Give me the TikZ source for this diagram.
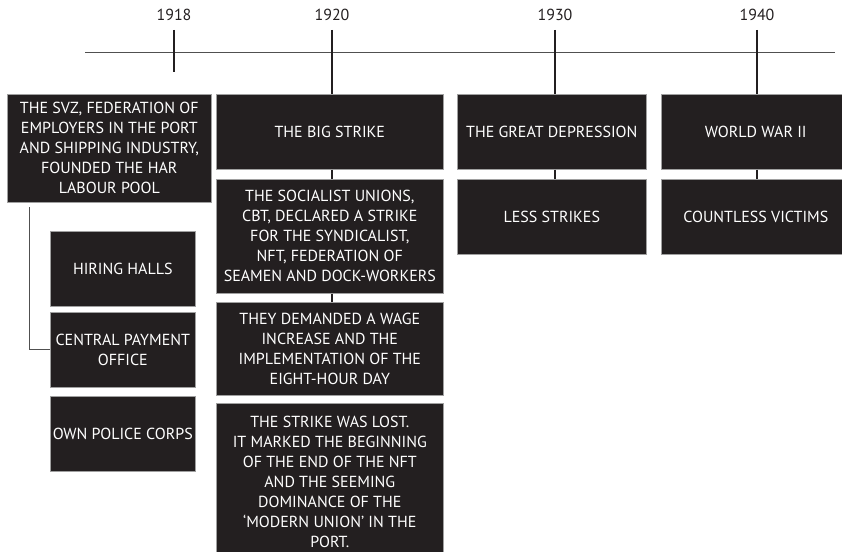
\documentclass[tikz,border=0pt]{standalone}
\usepackage{fontspec}
\setmainfont{PT Sans}
\usepackage{xcolor}
\usepackage{tikz}
\usetikzlibrary{positioning,calc}
\definecolor{boxclr}{RGB}{35,31,32}
\definecolor{rimclr}{RGB}{160,160,160}
\definecolor{axisclr}{RGB}{80,80,80}
\tikzset{
    evt/.style={rectangle,fill=boxclr,draw=rimclr,line width=0.6pt,text=white,align=center,
        inner sep=0pt,anchor=north west,font=\fontsize{16}{20}\selectfont},
    year/.style={font=\fontsize{16}{18}\selectfont,text=boxclr,inner sep=0pt},
    tick/.style={line width=2.2pt,draw=boxclr},
    link/.style={line width=2pt,draw=boxclr},
    axis/.style={line width=1pt,draw=axisclr},
}
\begin{document}
\begin{tikzpicture}[x=1pt,y=-1pt]
\useasboundingbox (0,0) rectangle (842,551);
\clip (0,0) rectangle (842,551);
% years and axis
\node[year] (y1918) at (174,15) {1918};
\node[year] (y1920) at (332,15) {1920};
\node[year] (y1930) at (555,15) {1930};
\node[year] (y1940) at (757,15) {1940};
\coordinate (axL) at (85,52.5);
\coordinate (axR) at (835,52.5);
\draw[axis] (axL) -- (axR);

% 1918
\node[evt,minimum width=204pt,minimum height=108pt] (svz) at (7,94)
  {THE SVZ, FEDERATION OF\\EMPLOYERS IN THE PORT\\AND SHIPPING INDUSTRY,\\FOUNDED THE HAR\\LABOUR POOL};
\node[evt,minimum width=145pt,minimum height=75pt] (halls)  at (50,231) {HIRING HALLS};
\node[evt,minimum width=145pt,minimum height=75pt] (pay)    at (50,312) {CENTRAL PAYMENT\\OFFICE};
\node[evt,minimum width=145pt,minimum height=75pt] (police) at (50,396) {OWN POLICE CORPS};

% 1920
\node[evt,minimum width=227pt,minimum height=75pt]  (strike) at (216,94) {THE BIG STRIKE};
\node[evt,minimum width=227pt,minimum height=114pt] (unions) at (216,179)
  {THE SOCIALIST UNIONS,\\CBT, DECLARED A STRIKE\\FOR THE SYNDICALIST,\\NFT, FEDERATION OF\\SEAMEN AND DOCK-WORKERS};
\node[evt,minimum width=227pt,minimum height=93pt]  (demand) at (216,302)
  {THEY DEMANDED A WAGE\\INCREASE AND THE\\IMPLEMENTATION OF THE\\EIGHT-HOUR DAY};
\node[evt,minimum width=227pt,minimum height=157pt] (lost)   at (216,403)
  {THE STRIKE WAS LOST.\\IT MARKED THE BEGINNING\\OF THE END OF THE NFT\\AND THE SEEMING\\DOMINANCE OF THE\\`MODERN UNION' IN THE\\PORT.};

% 1930 / 1940
\node[evt,minimum width=189pt,minimum height=75pt] (depr)    at (457,94)  {THE GREAT DEPRESSION};
\node[evt,minimum width=189pt,minimum height=75pt] (less)    at (457,179) {LESS STRIKES};
\node[evt,minimum width=189pt,minimum height=75pt] (war)     at (661,94)  {WORLD WAR II};
\node[evt,minimum width=189pt,minimum height=75pt] (victims) at (661,179) {COUNTLESS VICTIMS};

% ticks
\coordinate (t1918) at (174,30);
\coordinate (b1918) at (174,72);
\coordinate (t1920) at (332,30);
\coordinate (t1930) at (555,30);
\coordinate (t1940) at (757,30);
\draw[tick] (t1918) -- (b1918);
\draw[tick] (t1920) -- (t1920 |- strike.north);
\draw[tick] (t1930) -- (t1930 |- depr.north);
\draw[tick] (t1940) -- (t1940 |- war.north);

% links
\draw[link] (strike.south -| t1920) -- (unions.north -| t1920);
\draw[link] (unions.south -| t1920) -- (demand.north -| t1920);
\draw[link] (depr.south -| t1930) -- (less.north -| t1930);
\draw[link] (war.south -| t1940) -- (victims.north -| t1940);
\coordinate (brk) at (29,207);
\draw[axis,line width=0.9pt] (brk) |- (pay.west);
\end{tikzpicture}
\end{document}
